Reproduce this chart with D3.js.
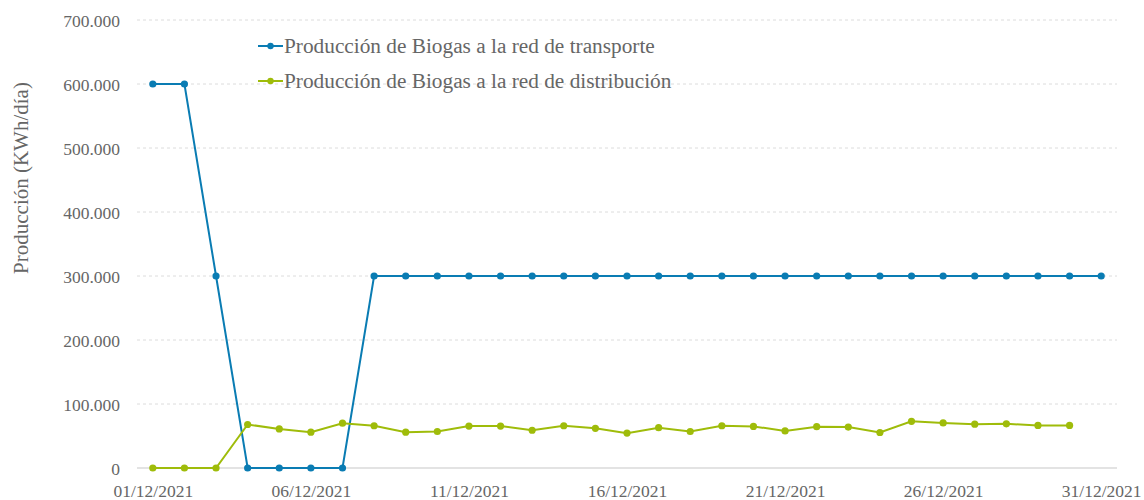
<!DOCTYPE html>
<html>
<head>
<meta charset="utf-8">
<script src="https://cdn.jsdelivr.net/npm/d3@7"></script>
<style>
  body { margin: 0; background: #fff; }
  svg text { font-family: "Liberation Serif", "Times New Roman", serif; fill: #666; }
</style>
</head>
<body>
<div id="chart"></div>
<script>
// days of December 2021
var days = d3.range(1, 32)

// Producción de Biogas a la red de transporte (KWh/día)
var transporte = [600000, 600000, 300000, 0, 0, 0, 0,
  300000, 300000, 300000, 300000, 300000, 300000, 300000, 300000, 300000, 300000,
  300000, 300000, 300000, 300000, 300000, 300000, 300000, 300000, 300000, 300000,
  300000, 300000, 300000, 300000]

// Producción de Biogas a la red de distribución (KWh/día), until 30/12
var distribucion = [0, 0, 0, 68000, 61000, 56000, 70000, 66000, 56000, 57000,
  65500, 65500, 59000, 66000, 62000, 54500, 63000, 57000, 66000, 65000,
  58000, 64500, 64000, 55500, 73000, 70500, 68500, 69000, 66500, 66500]

var seriesNames = ["Producción de Biogas a la red de transporte",
  "Producción de Biogas a la red de distribución"]
var seriesColors = ["#0a7cb3", "#9fbc0a"]

var yTicks = [0, 100000, 200000, 300000, 400000, 500000, 600000, 700000]
var xTickDays = [1, 6, 11, 16, 21, 26, 31]

var width = 1144, height = 500
var margin = {top: 20, right: 27, bottom: 32, left: 137}
var serif = "'Liberation Serif', 'Times New Roman', serif"

var svg = d3.select("#chart")
  .append("svg")
    .attr("width", width)
    .attr("height", height)

var x = d3.scaleLinear()
  .domain([0.5, 31.5])
  .range([margin.left, width - margin.right])

var y = d3.scaleLinear()
  .domain([0, 700000])
  .range([height - margin.bottom, margin.top])

var fmt = d3.formatLocale({decimal: ",", thousands: ".", grouping: [3], currency: ["", "€"]}).format(",")

// gridlines
svg.append("g")
  .selectAll("line")
  .data(yTicks.slice(1))
  .enter()
  .append("line")
    .attr("x1", x.range()[0])
    .attr("x2", x.range()[1])
    .attr("y1", function(d) { return y(d) })
    .attr("y2", function(d) { return y(d) })
    .attr("stroke", "#dcdcdc")
    .attr("stroke-dasharray", "3,3")

// baseline
svg.append("line")
  .attr("x1", x.range()[0])
  .attr("x2", x.range()[1])
  .attr("y1", y(0))
  .attr("y2", y(0))
  .attr("stroke", "#e3e3e3")
  .attr("stroke-width", 2)

// y axis
var yAxis = svg.append("g")
  .attr("transform", "translate(" + (margin.left - 17) + ",0)")
  .call(d3.axisLeft(y).tickValues(yTicks).tickFormat(fmt).tickSize(0).tickPadding(0))
  .attr("font-family", serif)
yAxis.select(".domain").remove()
yAxis.selectAll("text").style("font-size", "17.5px").style("font-family", serif).attr("dy", "0.35em")

// x axis
var xAxis = svg.append("g")
  .attr("transform", "translate(0," + y(0) + ")")
  .call(d3.axisBottom(x).tickValues(xTickDays).tickSize(0).tickPadding(17)
    .tickFormat(function(d) { return d3.format("02")(d) + "/12/2021" }))
  .attr("font-family", serif)
xAxis.select(".domain").remove()
xAxis.selectAll("text").style("font-size", "17.5px").style("font-family", serif)

// y title
svg.append("text")
  .attr("transform", "translate(28,178) rotate(-90)")
  .attr("text-anchor", "middle")
  .style("font-size", "21px")
  .text("Producción (KWh/día)")

var line = d3.line()
  .x(function(d) { return x(d[0]) })
  .y(function(d) { return y(d[1]) })

var allSeries = [transporte, distribucion]

allSeries.forEach(function(vals, i) {
  var pts = vals.map(function(v, j) { return [days[j], v] })
  svg.append("path")
    .datum(pts)
    .attr("fill", "none")
    .attr("stroke", seriesColors[i])
    .attr("stroke-width", 2)
    .attr("d", line)
  svg.append("g")
    .selectAll("circle")
    .data(pts)
    .enter()
    .append("circle")
      .attr("cx", function(d) { return x(d[0]) })
      .attr("cy", function(d) { return y(d[1]) })
      .attr("r", 3.6)
      .attr("fill", seriesColors[i])
})

// legend
var legend = svg.append("g")
  .selectAll("g")
  .data(seriesNames)
  .enter()
  .append("g")
    .attr("transform", function(d, i) { return "translate(258," + (46 + i * 35) + ")" })
legend.append("line")
  .attr("x1", 0).attr("x2", 25)
  .attr("stroke", function(d, i) { return seriesColors[i] })
  .attr("stroke-width", 2)
legend.append("circle")
  .attr("cx", 12.5).attr("r", 3.2)
  .attr("fill", function(d, i) { return seriesColors[i] })
legend.append("text")
  .attr("x", 26)
  .attr("dy", "0.35em")
  .style("font-size", "21.3px")
  .text(function(d) { return d })
</script>
</body>
</html>
